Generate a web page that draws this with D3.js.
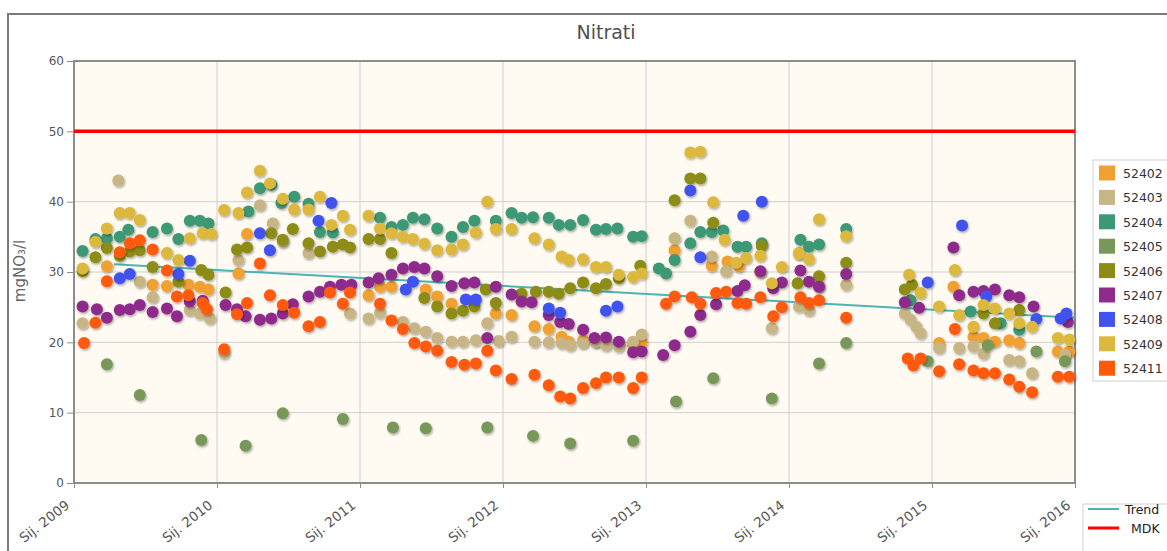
<!DOCTYPE html>
<html><head><meta charset="utf-8">
<script src="https://cdn.jsdelivr.net/npm/d3@7/dist/d3.min.js"></script>
<style>
html,body{margin:0;padding:0;background:#fff;}
svg{display:block;font-family:"DejaVu Sans",Verdana,sans-serif;}
</style></head>
<body>
<svg id="chart" width="1167" height="551"></svg>
<script>
// ---------- DATA ----------
const seriesNames = ["52402","52403","52404","52405","52406","52407","52408","52409","52411"];
const seriesColors = ["#F0A133","#C8B585","#3D9876","#78985A","#8C8C14","#8E2B8C","#4152EE","#DCB83E","#FF5A0A"];
const xTickValues = [2009,2010,2011,2012,2013,2014,2015,2016];
const xTickLabels = ["Sij. 2009","Sij. 2010","Sij. 2011","Sij. 2012","Sij. 2013","Sij. 2014","Sij. 2015","Sij. 2016"];
const yTickValues = [0,10,20,30,40,50,60];

const s52402 = [[2009.23,30.8],[2009.55,28.2],[2009.65,28.0],[2009.80,28.2],[2009.88,27.9],[2009.94,27.5],[2010.15,29.8],[2010.21,35.4],
 [2011.06,26.7],[2011.14,27.9],[2011.22,27.9],[2011.46,27.5],[2011.54,26.5],[2011.64,25.5],[2011.95,24.1],[2012.06,23.9],[2012.22,22.3],
 [2012.32,21.9],[2012.41,20.8],[2012.46,20.1],[2012.56,20.3],[2012.65,20.1],[2012.72,20.0],[2012.81,19.9],[2012.91,19.6],[2012.97,20.0],
 [2013.20,33.1],[2013.46,30.9],[2013.57,31.5],[2013.65,30.8],[2013.80,30.0],[2014.07,32.7],[2014.21,28.0],
 [2015.05,19.9],[2015.15,27.9],[2015.29,20.8],[2015.36,20.6],[2015.44,20.1],[2015.54,20.3],[2015.61,19.9],[2015.88,18.7],[2015.96,18.7]];
const s52403 = [[2009.06,22.7],[2009.31,43.0],[2009.46,28.6],[2009.55,26.4],[2009.81,24.6],[2009.88,24.1],[2009.95,23.4],[2010.05,18.5],
 [2010.15,31.7],[2010.30,39.5],[2010.39,36.9],[2010.46,34.3],[2010.64,32.7],[2010.93,24.1],[2011.06,23.4],[2011.14,24.2],[2011.30,22.9],
 [2011.38,22.0],[2011.46,21.5],[2011.54,20.6],[2011.64,20.1],[2011.72,20.1],[2011.81,20.3],[2011.89,22.7],[2011.97,20.2],[2012.06,20.8],
 [2012.22,20.1],[2012.32,20.0],[2012.41,19.9],[2012.47,19.6],[2012.56,19.9],[2012.65,20.1],[2012.72,19.6],[2012.81,19.4],[2012.91,20.1],
 [2012.97,21.1],[2013.20,34.8],[2013.31,37.3],[2013.46,32.2],[2013.56,30.1],[2013.88,22.0],[2014.07,25.1],[2014.14,24.6],[2014.40,28.2],
 [2014.81,24.1],[2014.85,23.2],[2014.89,22.2],[2014.92,21.3],[2015.05,19.2],[2015.19,19.2],[2015.29,19.4],[2015.36,18.4],[2015.54,17.5],
 [2015.61,17.3],[2015.70,15.6],[2015.93,18.2]];
const s52404 = [[2009.06,33.0],[2009.15,34.7],[2009.23,34.8],[2009.32,35.0],[2009.38,36.0],[2009.55,35.7],[2009.65,36.2],[2009.73,34.7],
 [2009.81,37.3],[2009.88,37.3],[2009.94,36.9],[2010.22,38.6],[2010.30,41.9],[2010.38,42.4],[2010.45,39.8],[2010.54,40.7],[2010.64,39.7],
 [2010.72,35.7],[2010.81,35.6],[2011.14,37.7],[2011.22,36.4],[2011.30,36.7],[2011.37,37.7],[2011.45,37.5],[2011.54,36.2],[2011.64,35.0],
 [2011.72,36.4],[2011.80,37.3],[2011.95,37.3],[2012.06,38.4],[2012.13,37.7],[2012.21,37.8],[2012.32,37.7],[2012.39,36.7],[2012.47,36.7],
 [2012.56,37.4],[2012.65,36.0],[2012.72,36.1],[2012.80,36.2],[2012.91,35.0],[2012.97,35.1],[2013.09,30.5],[2013.14,29.8],[2013.20,31.7],
 [2013.31,34.1],[2013.38,35.7],[2013.46,35.7],[2013.54,35.9],[2013.64,33.6],[2013.70,33.6],[2013.81,34.1],[2014.08,34.6],[2014.14,33.6],
 [2014.21,33.9],[2014.40,36.1],[2014.85,26.0],[2015.27,24.4],[2015.48,22.7],[2015.61,21.8]];
const s52405 = [[2009.23,16.9],[2009.46,12.5],[2009.89,6.1],[2010.20,5.3],[2010.46,9.9],[2010.88,9.1],[2011.23,7.9],[2011.46,7.8],
 [2011.89,7.9],[2012.21,6.7],[2012.47,5.6],[2012.91,6.0],[2013.21,11.6],[2013.47,14.9],[2013.88,12.0],[2014.21,17.0],[2014.40,19.9],
 [2014.97,17.3],[2015.39,19.6],[2015.73,18.7],[2015.93,17.3]];
const s52406 = [[2009.06,30.1],[2009.15,32.1],[2009.23,33.4],[2009.32,32.3],[2009.39,32.9],[2009.46,33.1],[2009.55,30.7],[2009.73,28.6],
 [2009.89,30.3],[2009.94,29.6],[2010.06,27.1],[2010.14,33.2],[2010.21,33.5],[2010.38,35.5],[2010.46,34.6],[2010.53,36.1],[2010.64,34.1],
 [2010.72,32.9],[2010.81,33.6],[2010.88,33.9],[2010.93,33.5],[2011.06,34.7],[2011.14,34.7],[2011.22,32.7],[2011.45,26.3],[2011.54,25.1],
 [2011.64,24.1],[2011.72,24.5],[2011.80,25.1],[2011.88,27.5],[2011.95,25.6],[2012.13,26.9],[2012.23,27.2],[2012.32,27.2],[2012.39,26.9],
 [2012.47,27.7],[2012.56,28.5],[2012.65,27.7],[2012.72,28.3],[2012.81,29.1],[2012.96,30.9],[2013.20,40.2],[2013.31,43.3],[2013.38,43.3],
 [2013.47,37.0],[2013.81,33.7],[2014.06,28.4],[2014.21,29.4],[2014.40,31.3],[2014.81,27.5],[2014.86,28.2],[2015.36,24.1],[2015.44,22.7],
 [2015.61,24.6]];
const s52407 = [[2009.06,25.1],[2009.16,24.7],[2009.23,23.5],[2009.32,24.6],[2009.39,24.7],[2009.46,25.3],[2009.55,24.3],[2009.65,24.8],
 [2009.72,23.7],[2009.81,25.8],[2009.90,25.9],[2010.06,25.3],[2010.14,24.7],[2010.20,23.7],[2010.30,23.2],[2010.38,23.4],[2010.46,24.1],
 [2010.53,25.4],[2010.64,26.5],[2010.72,27.2],[2010.79,27.9],[2010.87,28.2],[2010.94,28.2],[2011.06,28.5],[2011.13,29.1],[2011.22,29.6],
 [2011.30,30.5],[2011.38,30.7],[2011.45,30.5],[2011.54,29.4],[2011.64,28.0],[2011.73,28.4],[2011.80,28.5],[2011.89,20.6],[2011.95,27.9],
 [2012.06,26.8],[2012.13,25.8],[2012.20,25.7],[2012.32,23.9],[2012.40,22.9],[2012.46,22.6],[2012.56,21.8],[2012.64,20.6],[2012.72,20.7],
 [2012.81,20.1],[2012.91,18.6],[2012.97,18.7],[2013.12,18.2],[2013.20,19.6],[2013.31,21.5],[2013.38,23.9],[2013.49,25.4],[2013.64,27.3],
 [2013.69,28.1],[2013.80,30.1],[2013.89,27.7],[2013.95,28.5],[2014.08,30.2],[2014.14,28.6],[2014.21,27.9],[2014.40,29.7],[2014.81,25.7],
 [2014.91,24.9],[2015.15,33.5],[2015.19,26.7],[2015.29,27.2],[2015.36,27.3],[2015.44,27.5],[2015.54,26.7],[2015.61,26.4],[2015.71,25.1],
 [2015.95,22.9]];
const s52408 = [[2009.32,29.1],[2009.39,29.7],[2009.73,29.7],[2009.81,31.6],[2010.30,35.5],[2010.37,33.1],[2010.71,37.3],[2010.80,39.8],
 [2011.32,27.5],[2011.37,28.6],[2011.74,26.1],[2011.81,26.1],[2012.32,24.8],[2012.40,24.2],[2012.72,24.5],[2012.80,25.1],[2013.31,41.6],
 [2013.38,32.1],[2013.68,38.0],[2013.81,40.0],[2014.97,28.5],[2015.21,36.6],[2015.38,26.5],[2015.73,23.3],[2015.90,23.4],[2015.94,24.1]];
const s52409 = [[2009.06,30.5],[2009.15,34.3],[2009.23,36.2],[2009.32,38.4],[2009.39,38.4],[2009.46,37.4],[2009.65,32.7],[2009.73,31.7],
 [2009.81,34.8],[2009.90,35.5],[2009.96,35.4],[2010.05,38.8],[2010.15,38.4],[2010.21,41.3],[2010.30,44.4],[2010.37,42.6],[2010.46,40.4],
 [2010.54,38.9],[2010.64,38.9],[2010.72,40.7],[2010.80,36.7],[2010.88,38.0],[2010.93,36.0],[2011.06,38.0],[2011.14,36.2],[2011.22,35.5],
 [2011.30,35.0],[2011.37,34.7],[2011.45,34.0],[2011.54,33.1],[2011.64,33.2],[2011.72,33.9],[2011.81,35.6],[2011.89,40.0],[2011.95,36.1],
 [2012.06,36.1],[2012.22,34.8],[2012.32,33.9],[2012.41,32.2],[2012.46,31.7],[2012.56,31.8],[2012.65,30.7],[2012.72,30.7],[2012.81,29.6],
 [2012.91,29.3],[2012.97,29.8],[2013.31,47.0],[2013.38,47.1],[2013.47,39.9],[2013.55,34.6],[2013.63,31.3],[2013.70,32.0],[2013.80,32.3],
 [2013.88,28.4],[2013.95,30.7],[2014.07,32.6],[2014.14,31.8],[2014.21,37.5],[2014.40,35.1],[2014.84,29.6],[2014.92,27.0],[2015.05,25.1],
 [2015.16,30.3],[2015.19,23.9],[2015.29,22.2],[2015.36,25.3],[2015.44,24.8],[2015.54,24.1],[2015.61,22.7],[2015.70,22.2],[2015.88,20.6],
 [2015.96,20.4]];
const s52411 = [[2009.07,19.9],[2009.15,22.8],[2009.23,28.7],[2009.32,32.8],[2009.39,34.1],[2009.46,34.5],[2009.55,33.2],[2009.65,30.2],
 [2009.72,26.5],[2009.80,26.7],[2009.90,25.6],[2009.93,24.7],[2010.05,19.0],[2010.14,24.0],[2010.21,25.6],[2010.30,31.2],[2010.37,26.7],
 [2010.46,25.3],[2010.54,24.2],[2010.64,22.3],[2010.72,22.9],[2010.79,27.1],[2010.88,25.5],[2010.93,27.1],[2011.14,25.5],[2011.22,23.1],
 [2011.30,21.9],[2011.38,19.9],[2011.46,19.4],[2011.54,18.8],[2011.64,17.2],[2011.73,16.8],[2011.81,17.0],[2011.89,18.8],[2011.95,16.0],
 [2012.06,14.8],[2012.22,15.4],[2012.32,13.9],[2012.40,12.3],[2012.47,12.0],[2012.56,13.5],[2012.65,14.2],[2012.72,15.0],[2012.81,15.0],
 [2012.91,13.5],[2012.97,15.0],[2013.14,25.5],[2013.20,26.5],[2013.32,26.4],[2013.38,25.5],[2013.49,27.0],[2013.56,27.2],[2013.64,25.6],
 [2013.70,25.5],[2013.80,26.4],[2013.89,23.7],[2013.95,25.0],[2014.08,26.4],[2014.14,25.6],[2014.21,26.0],[2014.40,23.5],[2014.83,17.7],
 [2014.87,16.7],[2014.92,17.7],[2015.05,15.9],[2015.16,21.9],[2015.19,16.9],[2015.29,16.0],[2015.36,15.6],[2015.44,15.6],[2015.54,14.7],
 [2015.61,13.7],[2015.70,12.9],[2015.88,15.1],[2015.96,15.1]];
const trendPoints = [[2009.28,31.1],[2016.0,23.5]];
const mdkPoints = [[2009,50],[2016,50]];
const seriesData = [s52402,s52403,s52404,s52405,s52406,s52407,s52408,s52409,s52411];

// ---------- CHART ----------
const FONT = "DejaVu Sans, Verdana, sans-serif";
const svg = d3.select("#chart");
const plot = {left:74, top:61, right:1075, bottom:483};
const x = d3.scaleLinear().domain([2009,2016]).range([plot.left, plot.right]);
const y = d3.scaleLinear().domain([0,60]).range([plot.bottom, plot.top]);

const defs = svg.append("defs");
const f = defs.append("filter").attr("id","sh").attr("x","-50%").attr("y","-50%").attr("width","200%").attr("height","200%");
f.append("feDropShadow").attr("dx",1).attr("dy",1.5).attr("stdDeviation",1).attr("flood-color","#000").attr("flood-opacity",0.35);

// outer frame
svg.append("rect").attr("x",8).attr("y",14).attr("width",1200).attr("height",600)
  .attr("fill","#fff").attr("stroke","#7a7a7a").attr("stroke-width",2);

// title
svg.append("text").attr("x",606).attr("y",39).attr("text-anchor","middle")
  .attr("font-size",19).attr("fill","#505050").text("Nitrati");

// plot background
svg.append("rect").attr("x",plot.left).attr("y",plot.top)
  .attr("width",plot.right-plot.left).attr("height",plot.bottom-plot.top).attr("fill","#FFFBF2");

// grid
svg.append("g").selectAll("line").data(yTickValues).join("line")
  .attr("x1",plot.left).attr("x2",plot.right).attr("y1",d=>y(d)).attr("y2",d=>y(d))
  .attr("stroke","#cfcfcf").attr("stroke-width",1);
svg.append("g").selectAll("line").data(xTickValues).join("line")
  .attr("x1",d=>x(d)).attr("x2",d=>x(d)).attr("y1",plot.top).attr("y2",plot.bottom)
  .attr("stroke","#cfcfcf").attr("stroke-width",1);

// plot border
svg.append("rect").attr("x",plot.left).attr("y",plot.top)
  .attr("width",plot.right-plot.left).attr("height",plot.bottom-plot.top)
  .attr("fill","none").attr("stroke","#8c8c8c").attr("stroke-width",2);

// y axis
const yAxis = d3.axisLeft(y).tickValues(yTickValues).tickSize(7).tickPadding(3);
const gy = svg.append("g").attr("transform",`translate(${plot.left},0)`).call(yAxis);
gy.select(".domain").remove();
gy.selectAll("line").attr("stroke","#8c8c8c");
gy.selectAll("text").attr("font-size",12).attr("fill","#555").attr("font-family",FONT);

// x axis
const xAxis = d3.axisBottom(x).tickValues(xTickValues).tickSize(5).tickFormat((d,i)=>xTickLabels[i]);
const gx = svg.append("g").attr("transform",`translate(0,${plot.bottom})`).call(xAxis);
gx.select(".domain").remove();
gx.selectAll("line").attr("stroke","#8c8c8c");
gx.selectAll("text").attr("font-size",13.5).attr("fill","#555").attr("font-family",FONT)
  .attr("text-anchor","end").attr("dy",null).attr("y",null)
  .attr("transform","translate(-4,24) rotate(-38)");

// y title
svg.append("text").attr("transform","translate(25,271) rotate(-90)").attr("text-anchor","middle")
  .attr("font-size",15).attr("fill","#666").attr("font-family",FONT).text("mgNO₃/l");

// lines
const line = d3.line().x(d=>x(d[0])).y(d=>y(d[1]));
svg.append("path").datum(mdkPoints).attr("d",line).attr("stroke","#FF0000").attr("stroke-width",3.5).attr("fill","none");
svg.append("path").datum(trendPoints).attr("d",line).attr("stroke","#4DB3B3").attr("stroke-width",2).attr("fill","none");

// dots
seriesData.forEach((data,i)=>{
  svg.append("g").attr("filter","url(#sh)").selectAll("circle").data(data).join("circle")
    .attr("cx",d=>x(d[0])).attr("cy",d=>y(d[1])).attr("r",6).attr("fill",seriesColors[i]);
});

// legend (series)
const lg = svg.append("g");
lg.append("rect").attr("x",1093).attr("y",160).attr("width",90).attr("height",221)
  .attr("fill","#fff").attr("stroke","#d0d0d0");
const items = lg.selectAll("g.it").data(seriesNames).join("g").attr("class","it")
  .attr("transform",(d,i)=>`translate(0,${173+i*24.4})`);
items.append("rect").attr("x",1099).attr("y",-7.5).attr("width",16).attr("height",15).attr("fill",(d,i)=>seriesColors[i]);
items.append("text").attr("x",1123).attr("y",5).attr("font-size",12.5).attr("fill","#333").text(d=>d);

// legend (lines)
const lg2 = svg.append("g");
lg2.append("rect").attr("x",1083).attr("y",504).attr("width",100).attr("height",60)
  .attr("fill","#fff").attr("stroke","#d0d0d0");
lg2.append("line").attr("x1",1088).attr("x2",1119).attr("y1",509).attr("y2",509).attr("stroke","#4DB3B3").attr("stroke-width",2);
lg2.append("text").attr("x",1125).attr("y",514).attr("font-size",12.5).attr("fill","#222").text("Trend");
lg2.append("line").attr("x1",1088).attr("x2",1119).attr("y1",528).attr("y2",528).attr("stroke","#FF0000").attr("stroke-width",3);
lg2.append("text").attr("x",1131).attr("y",533).attr("font-size",12.5).attr("fill","#222").text("MDK");
</script>
</body></html>
